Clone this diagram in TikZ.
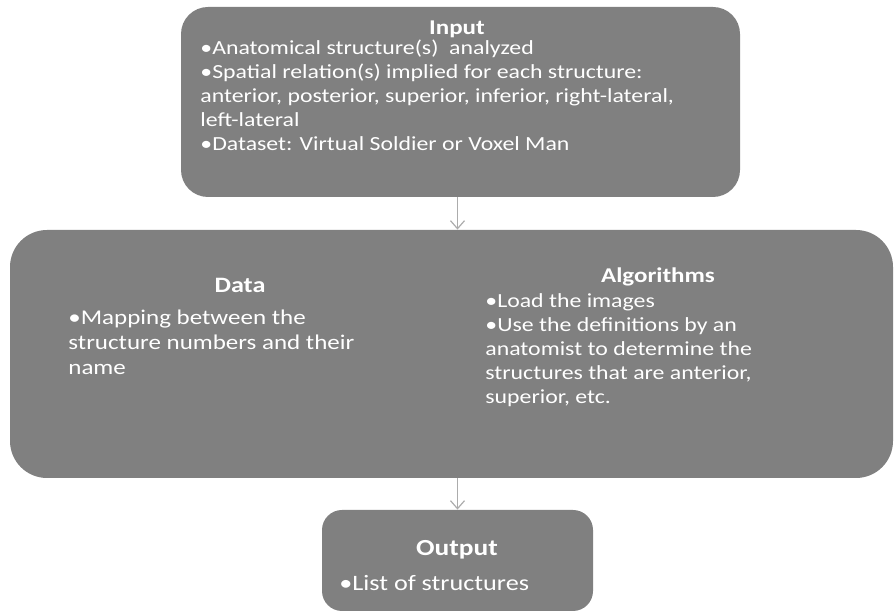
\documentclass[tikz,border=0pt]{standalone}
\usepackage{fontspec}
\setmainfont{Carlito}[FakeStretch=1.19]
\usetikzlibrary{arrows.meta}

\begin{document}
\begin{tikzpicture}[x=0.5pt,y=-0.5pt,
  box/.style={fill=boxgray,draw=none,inner sep=0pt},
  head/.style={text=white,font=\fontsize{10.5pt}{12pt}\selectfont\bfseries,anchor=base,inner sep=0pt},
  body/.style={text=white,font=\fontsize{10pt}{12pt}\selectfont,align=left,anchor=base west,inner sep=0pt},
  link/.style={draw=gray!65,line width=0.6pt,-{Straight Barb[length=4pt,width=7pt]}}]
  \definecolor{boxgray}{HTML}{808080}
  \useasboundingbox (0,0) rectangle (894,613);
  % boxes
  \node[box,rounded corners=13.5pt,minimum width=279.5pt,minimum height=95pt] (input) at (460.5,102) {};
  \node[box,rounded corners=18.5pt,minimum width=441.5pt,minimum height=124pt] (proc) at (451.5,354) {};
  \node[box,rounded corners=10pt,minimum width=135.5pt,minimum height=50.5pt] (output) at (457.5,560.5) {};
  % texts (base = last line)
  \node[head] (inhead) at (457,35) {Input};
  \node[body] (intext) at (200,151) {•Anatomical structure(s)\ \ analyzed\\
    •Spatial relation(s) implied for each structure:\\
    anterior, posterior, superior, inferior, right-lateral,\\
    left-lateral\\
    •Dataset: Virtual Soldier or Voxel Man};
  \node[head,font=\fontsize{11pt}{12pt}\selectfont\bfseries] (datahead) at (240,293) {Data};
  \node[body,font=\fontsize{10.5pt}{12.5pt}\selectfont] (datatext) at (68,375) {•Mapping between the\\
    structure numbers and their\\
    name};
  \node[head] (alghead) at (658,283) {Algorithms};
  \node[body] (algtext) at (485,404) {•Load the images\\
    •Use the definitions by an\\
    anatomist to determine the\\
    structures that are anterior,\\
    superior, etc.};
  \node[head,font=\fontsize{11.5pt}{12pt}\selectfont\bfseries] (outhead) at (457,556) {Output};
  \node[body,font=\fontsize{11pt}{12pt}\selectfont] (outtext) at (339,591) {•List of structures};
  % connectors
  \draw[link] (input.south -| output.north) -- (proc.north -| output.north);
  \draw[link] (proc.south -| output.north) -- (output.north);
\end{tikzpicture}
\end{document}
